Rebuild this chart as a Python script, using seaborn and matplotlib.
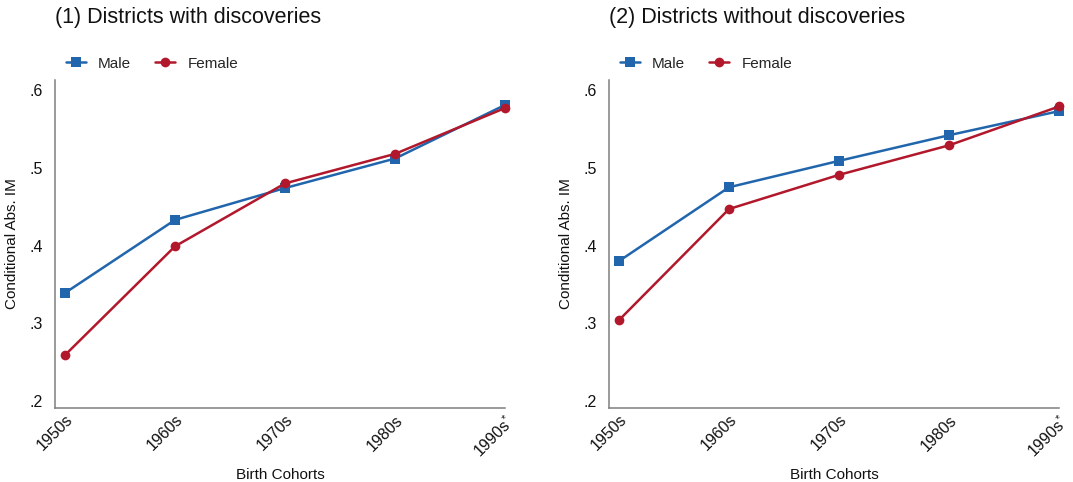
import pandas as pd
import numpy as np
import matplotlib.pyplot as plt
import seaborn as sns
from matplotlib.ticker import FuncFormatter

cohorts = ['1950s', '1960s', '1970s', '1980s', '1990s$^{*}$']
male_with = [0.339, 0.433, 0.474, 0.512, 0.581]
female_with = [0.259, 0.399, 0.480, 0.518, 0.577]
male_without = [0.380, 0.475, 0.509, 0.542, 0.573]
female_without = [0.304, 0.447, 0.491, 0.529, 0.579]
titles = ['(1) Districts with discoveries', '(2) Districts without discoveries']

sns.set_theme(style='white')
plt.rcParams['font.family'] = ['Liberation Sans', 'DejaVu Sans']
plt.rcParams['mathtext.fontset'] = 'custom'
plt.rcParams['mathtext.rm'] = 'Liberation Sans'

palette = {'Male': '#2166ac', 'Female': '#b2182b'}
markers = {'Male': 's', 'Female': 'o'}

fig = plt.figure(figsize=(10.73, 4.82), dpi=100)
ax1 = fig.add_axes([0.0513, 0.1535, 0.4195, 0.6805])
ax2 = fig.add_axes([0.5676, 0.1535, 0.4195, 0.6805])

panels = [(ax1, male_with, female_with), (ax2, male_without, female_without)]
for i, (ax, m, f) in enumerate(panels):
    df = pd.DataFrame({
        'x': list(range(len(cohorts))) * 2,
        'val': m + f,
        'sex': ['Male'] * len(m) + ['Female'] * len(f),
    })
    sns.lineplot(data=df, x='x', y='val', hue='sex', style='sex',
                 palette=palette, markers=markers, dashes=False,
                 markersize=7, linewidth=1.8, markeredgewidth=0,
                 ax=ax, clip_on=False)
    ax.set_xlim(-0.09, 3.96)
    ax.set_ylim(0.191, 0.613)
    ax.set_xticks(range(len(cohorts)))
    ax.set_xticklabels(cohorts, rotation=45, ha='right', rotation_mode='anchor', fontsize=11.5)
    ax.set_yticks([0.2, 0.3, 0.4, 0.5, 0.6])
    ax.yaxis.set_major_formatter(FuncFormatter(lambda v, p: ('%.1f' % v).lstrip('0')))
    ax.tick_params(axis='both', length=0, labelsize=11.5, colors='#111111')
    ax.tick_params(axis='y', pad=9)
    ax.tick_params(axis='x', pad=3)
    for s in ['top', 'right']:
        ax.spines[s].set_visible(False)
    for s in ['left', 'bottom']:
        ax.spines[s].set_color('#7f7f7f')
        ax.spines[s].set_linewidth(1.1)
    ax.set_xlabel('Birth Cohorts', fontsize=11, color='#111111')
    ax.xaxis.set_label_coords(0.5, -0.183)
    ax.set_ylabel('Conditional Abs. IM', fontsize=11, labelpad=7, color='#111111')
    ax.text(0.0, 1.175, titles[i], transform=ax.transAxes, fontsize=15.5,
            ha='left', va='baseline', color='#111111')
    ax.legend(loc='lower left', bbox_to_anchor=(0.01, 1.01), ncol=2, frameon=False,
              fontsize=11, handlelength=1.3, columnspacing=1.6, borderaxespad=0,
              handletextpad=0.8)

fig.savefig('out.png', dpi=100)
